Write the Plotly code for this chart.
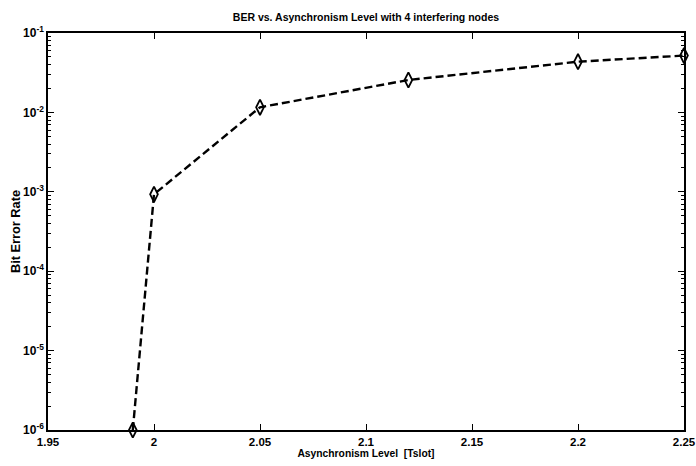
import plotly.graph_objects as go

x_vals = [1.99, 2.0, 2.05, 2.12, 2.2, 2.25]
ber_vals = [1.0e-6, 9.3e-4, 1.16e-2, 2.56e-2, 4.35e-2, 5.2e-2]

x_ticks = [1.95, 2.0, 2.05, 2.1, 2.15, 2.2, 2.25]
x_ticklabels = ["1.95", "2", "2.05", "2.1", "2.15", "2.2", "2.25"]
y_ticks = [1e-6, 1e-5, 1e-4, 1e-3, 1e-2, 1e-1]
y_ticklabels = ["10<sup>-6</sup>", "10<sup>-5</sup>", "10<sup>-4</sup>",
                "10<sup>-3</sup>", "10<sup>-2</sup>", "10<sup>-1</sup>"]

title_text = "BER vs. Asynchronism Level with 4 interfering nodes"
x_title = "Asynchronism Level  [Tslot]"
y_title = "Bit Error Rate"

FONT = "Liberation Sans, Arial, sans-serif"

fig = go.Figure()
fig.add_trace(go.Scatter(
    x=x_vals, y=ber_vals, mode="lines+markers",
    line=dict(color="black", width=2.4, dash="8px,4px"),
    marker=dict(symbol="diamond-tall-open", size=11, color="black",
                line=dict(color="black", width=1.8)),
    showlegend=False, cliponaxis=False,
))

fig.update_layout(
    width=696, height=466,
    paper_bgcolor="white", plot_bgcolor="white",
    margin=dict(l=48, r=12, t=33, b=36),
    font=dict(family=FONT, color="black", size=12),
    title=dict(text="<b>" + title_text + "</b>", x=0.5, xref="paper", xanchor="center",
               y=1 - 17.5 / 466, yref="container", yanchor="middle",
               font=dict(size=10.5, family=FONT)),
)
fig.update_xaxes(
    range=[1.95, 2.25], tickvals=x_ticks, automargin=False,
    ticktext=["<b>" + t + "</b>" for t in x_ticklabels],
    ticks="inside", ticklen=6, tickwidth=1, tickcolor="black",
    showline=True, linecolor="black", linewidth=1.5, mirror="ticks",
    showgrid=False, zeroline=False,
    tickfont=dict(size=11.5, family=FONT),
    title=dict(text="<b>" + x_title + "</b>", standoff=3, font=dict(size=10.3, family=FONT)),
)
fig.update_yaxes(
    type="log", range=[-6, -1], tickvals=y_ticks, automargin=False,
    ticktext=["<b>" + t + "</b>" for t in y_ticklabels],
    ticks="inside", ticklen=6, tickwidth=1, tickcolor="black",
    showline=True, linecolor="black", linewidth=1.5, mirror="ticks",
    showgrid=False, zeroline=False,
    tickfont=dict(size=12, family=FONT),
    minor=dict(ticks="inside", ticklen=3, tickcolor="black", dtick="D1", showgrid=False),
    title=dict(text="<b>" + y_title + "</b>", standoff=0, font=dict(size=12.8, family=FONT)),
)

fig.write_html("out.html", config={"displayModeBar": False},
               post_script="document.body.style.margin='0';document.body.style.overflow='hidden';")
